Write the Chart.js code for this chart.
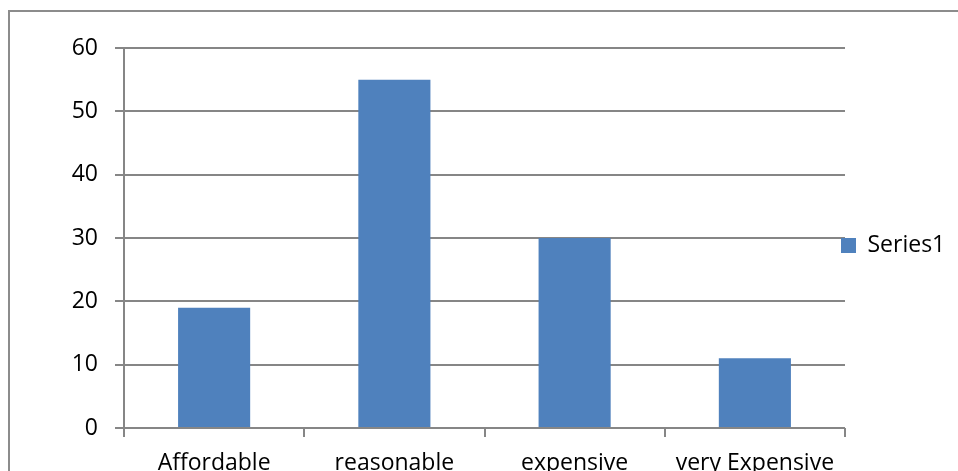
<!DOCTYPE html>
<html>
<head>
<meta charset="utf-8">
<script src="https://cdn.jsdelivr.net/npm/chart.js@4/dist/chart.umd.min.js"></script>
<style>
    body { margin: 0; background: #fff; overflow: hidden; }
    #frame {
        position: absolute; left: 8px; top: 10px;
        width: 1000px; height: 600px;
        border: 2px solid #8c8c8c; box-sizing: border-box;
    }
    #wrap { position: absolute; left: 0; top: 0; width: 958px; height: 471px; }
</style>
</head>
<body>
<div id="frame"></div>
<div id="wrap"><canvas id="chart"></canvas></div>
<script>
const categories = ["Affordable", "reasonable", "expensive", "very Expensive"];
const series1 = [19, 55, 30, 11];
const yTicks = [0, 10, 20, 30, 40, 50, 60];

const gridColor = "#868686";
const font = { family: "'Open Sans', sans-serif", size: 23 };

// legend sits a bit higher than the centre of the right-hand box
const legendShift = {
    id: "legendShift",
    afterLayout: chart => {
        chart.legend.top -= 14;
        chart.legend.bottom -= 14;
        chart.legend.left -= 4;
    }
};

new Chart(
    document.getElementById("chart"),
    {
        type: "bar",
        data: {
            labels: categories,
            datasets: [{
                label: "Series1",
                data: series1,
                backgroundColor: "#4F81BD",
                barPercentage: 0.4,
                categoryPercentage: 1
            }]
        },
        options: {
            responsive: true,
            maintainAspectRatio: false,
            animation: false,
            layout: { padding: { left: 0, top: 48, right: 0, bottom: 0 } },
            plugins: {
                tooltip: { enabled: false },
                legend: {
                    position: "right",
                    maxWidth: 113,
                    labels: {
                        color: "#000",
                        font: font,
                        boxWidth: 15,
                        boxHeight: 15,
                        padding: 0
                    }
                }
            },
            scales: {
                x: {
                    grid: {
                        offset: true,
                        drawOnChartArea: false,
                        drawTicks: true,
                        tickLength: 9,
                        color: gridColor,
                        lineWidth: 2
                    },
                    border: { display: false },
                    ticks: { color: "#000", font: font, padding: 13, maxRotation: 0 },
                    afterFit: axis => { axis.height = 43; }
                },
                y: {
                    min: 0,
                    max: 60,
                    afterBuildTicks: axis => {
                        axis.ticks = yTicks.map(v => ({ value: v }));
                    },
                    grid: {
                        color: gridColor,
                        lineWidth: 2,
                        tickLength: 9
                    },
                    border: { display: true, color: gridColor, width: 2 },
                    ticks: { color: "#000", font: font, padding: 17 },
                    afterFit: axis => { axis.width = 124; }
                }
            }
        },
        plugins: [legendShift]
    }
);
</script>
</body>
</html>
